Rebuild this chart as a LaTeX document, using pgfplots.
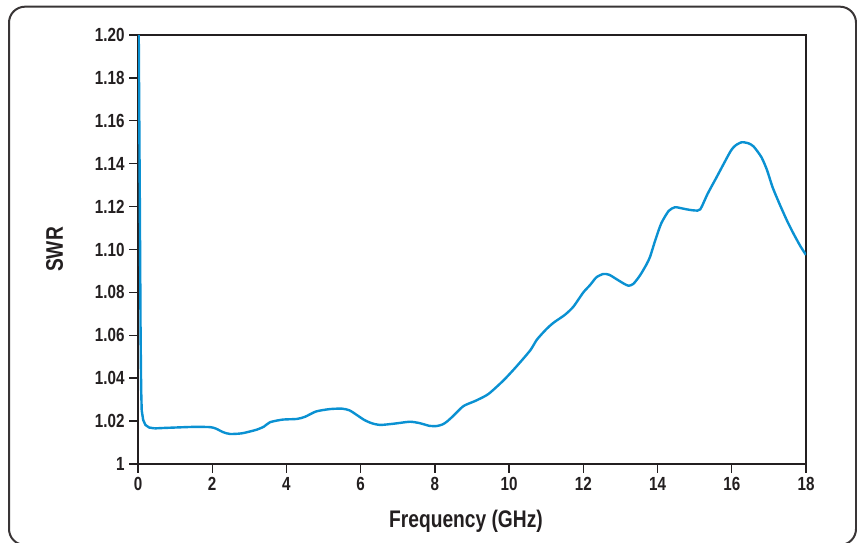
\documentclass[border=0pt]{standalone}
\usepackage{fontspec}
\setmainfont{Liberation Sans}[FakeStretch=0.8]
\usepackage{pgfplots}
\pgfplotsset{compat=1.18}
\definecolor{curve}{RGB}{10,145,210}
\definecolor{axisgray}{RGB}{35,31,32}
\begin{document}
\begin{tikzpicture}
\useasboundingbox (0pt,0pt) rectangle (857pt,543pt);
\draw[axisgray!90, line width=2pt, rounded corners=16pt] (9pt,-2pt) rectangle (856pt,536.3pt);
\begin{axis}[
  at={(138pt,79pt)}, anchor=south west,
  scale only axis, width=668pt, height=429pt,
  xmin=0, xmax=18, ymin=1, ymax=1.20,
  xtick={0,2,...,18},
  ytick={1,1.02,1.04,1.06,1.08,1.10,1.12,1.14,1.16,1.18,1.20},
  yticklabels={1,1.02,1.04,1.06,1.08,1.10,1.12,1.14,1.16,1.18,1.20},
  tick align=outside, major tick length=9pt,
  xtick pos=bottom, ytick pos=left,
  axis line style={axisgray, line width=1.4pt},
  every tick/.style={axisgray, line width=1.4pt},
  /pgf/number format/assume math mode=true,
  tick label style={font=\fontsize{19pt}{19pt}\selectfont\bfseries, text=axisgray},
  xticklabel style={yshift=-1pt},
  yticklabel style={xshift=-1pt},
  xlabel={Frequency (GHz)},
  ylabel={SWR},
  label style={font=\fontsize{24pt}{24pt}\selectfont\bfseries, text=axisgray},
  xlabel style={at={(axis description cs:0.491,-0.1469)}, anchor=base},
  ylabel style={at={(axis description cs:-0.1123,0.5)}, anchor=base, rotate=0},
  clip=true,
]
\addplot[curve, line width=2.4pt, line join=round] table {
x y
0.02 1.200
0.05 1.120
0.07 1.060
0.085 1.035
0.10 1.025
0.14 1.0205
0.20 1.0182
0.30 1.0170
0.45 1.0166
};
\addplot[curve, line width=2.4pt, line join=round, smooth, tension=0.4] table {
x y
0.45 1.0166
0.7 1.0168
1.0 1.0170
1.5 1.0173
1.94 1.0172
2.1 1.0165
2.3 1.0148
2.48 1.0140
2.8 1.0143
3.2 1.0160
3.4 1.0175
3.56 1.0195
3.9 1.0207
4.28 1.0210
4.5 1.0220
4.8 1.0245
5.17 1.0256
5.5 1.0258
5.7 1.0250
5.9 1.0228
6.1 1.0205
6.3 1.0190
6.52 1.0182
6.9 1.0188
7.33 1.0197
7.6 1.0190
7.85 1.0178
8.05 1.0177
8.2 1.0184
8.32 1.0197
8.5 1.0225
8.77 1.0270
9.1 1.0295
9.44 1.0326
9.85 1.0390
10.2 1.0455
10.57 1.0530
10.75 1.0580
11.0 1.0628
11.2 1.0659
11.5 1.0695
11.73 1.0733
12.0 1.0800
12.18 1.0834
12.35 1.0870
12.54 1.0886
12.7 1.0882
12.9 1.0861
13.1 1.0840
13.22 1.0831
13.35 1.0840
13.53 1.0880
13.7 1.0930
13.8 1.0967
13.94 1.1044
14.1 1.1122
14.3 1.1180
14.47 1.1197
14.65 1.1192
14.79 1.1187
15.0 1.1182
15.15 1.1187
15.35 1.1260
15.6 1.1340
15.96 1.1456
16.1 1.1485
16.27 1.1500
16.45 1.1495
16.59 1.1480
16.8 1.1430
16.95 1.1370
17.1 1.1290
17.3 1.1207
17.5 1.1130
17.66 1.1075
17.85 1.1015
18.0 1.0975
};
\end{axis}
\end{tikzpicture}
\end{document}
